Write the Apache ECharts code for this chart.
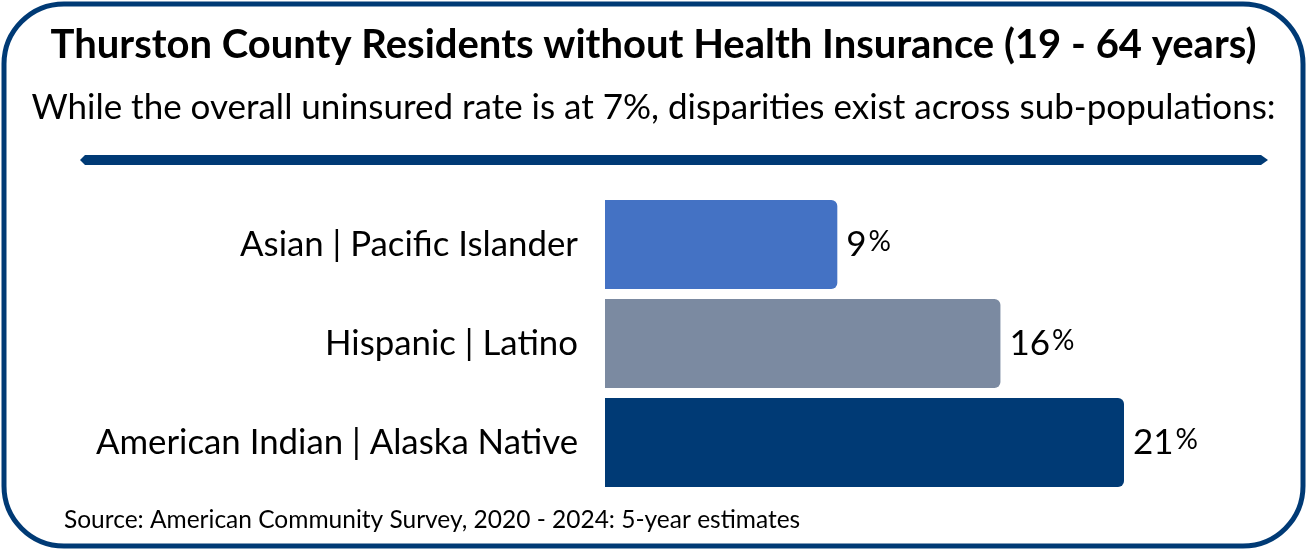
<!DOCTYPE html>
<html>
<head>
<meta charset="utf-8">
<script src="https://cdn.jsdelivr.net/npm/echarts@6/dist/echarts.min.js"></script>
<style>
  html, body { margin: 0; padding: 0; background: #fff; }
  #main { width: 1307px; height: 550px; }
</style>
</head>
<body>
<div id="main"></div>
<script>
var groups = ['Asian | Pacific Islander', 'Hispanic | Latino', 'American Indian | Alaska Native'];
var uninsured = [9.4, 16, 21];
var barColors = ['#4472c4', '#7b8aa1', '#003a75'];

var myChart = echarts.init(document.getElementById('main'));
var navy = '#003a75';
var font = 'Lato';

option = {
    backgroundColor: '#fff',
    textStyle: { fontFamily: font },
    title: [
        {
            text: 'Thurston County Residents without Health Insurance (19 - 64 years)',
            left: 'center', top: 20,
            textStyle: { fontSize: 40, fontWeight: 'bold', color: '#000', fontFamily: font }
        },
        {
            text: 'While the overall uninsured rate is at 7%, disparities exist across sub-populations:',
            left: 'center', top: 85,
            textStyle: { fontSize: 35, fontWeight: 'normal', color: '#000', fontFamily: font }
        },
        {
            text: 'Source: American Community Survey, 2020 - 2024: 5-year estimates',
            left: 59, top: 503,
            textStyle: { fontSize: 24.5, fontWeight: 'normal', color: '#000', fontFamily: font }
        }
    ],
    graphic: [
        {
            type: 'rect',
            shape: { x: 4, y: 4, width: 1299, height: 542, r: 60 },
            style: { fill: 'none', stroke: navy, lineWidth: 5 }
        },
        {
            type: 'polygon',
            shape: { points: [[80, 160], [85, 155], [1261, 155], [1268, 160], [1261, 165], [85, 165]] },
            style: { fill: navy }
        }
    ],
    grid: { left: 605, top: 195, width: 519, height: 297 },
    xAxis: {
        type: 'value', min: 0, max: 21,
        show: false
    },
    yAxis: {
        type: 'category',
        data: groups,
        inverse: true,
        axisLine: { show: false },
        axisTick: { show: false },
        axisLabel: { fontSize: 34.8, color: '#000', margin: 27, fontFamily: font }
    },
    series: [
        {
            type: 'bar',
            barWidth: 89,
            data: uninsured.map(function (v, i) {
                return { value: v, itemStyle: { color: barColors[i], borderRadius: [0, 6, 6, 0] } };
            }),
            label: {
                show: true,
                position: 'right',
                distance: 9,
                formatter: function (p) { return '{n|' + Math.round(p.value) + '}{p|%}'; },
                rich: {
                    n: { fontSize: 35, color: '#000', fontFamily: font },
                    p: { fontSize: 28, color: '#000', fontFamily: font, verticalAlign: 'bottom', padding: [0, 0, 6, 2] }
                }
            }
        }
    ]
};
myChart.setOption(option);
</script>
</body>
</html>
